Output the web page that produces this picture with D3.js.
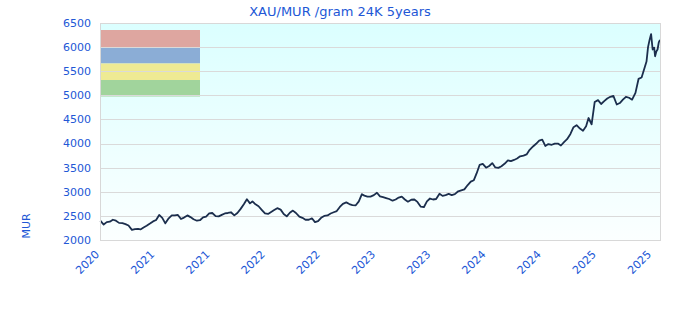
<!DOCTYPE html>
<html>
<head>
<meta charset="utf-8">
<script src="https://cdn.jsdelivr.net/npm/d3@7"></script>
<style>
  body { margin: 0; background: #fff; }
  svg { display: block; font-family: "DejaVu Sans", sans-serif; }
</style>
</head>
<body>
<div id="chart"></div>
<script>
const dates = [
  "2020-10-21",
  "2020-11-01","2020-11-11","2020-11-21","2020-12-01","2020-12-11","2020-12-21",
  "2021-01-01","2021-01-11","2021-01-21","2021-02-01","2021-02-11","2021-02-21",
  "2021-03-01","2021-03-11","2021-03-21","2021-04-01","2021-04-11","2021-04-21",
  "2021-05-01","2021-05-11","2021-05-21","2021-06-01","2021-06-11","2021-06-21",
  "2021-07-01","2021-07-11","2021-07-21","2021-08-01","2021-08-11","2021-08-21",
  "2021-09-01","2021-09-11","2021-09-21","2021-10-01","2021-10-11","2021-10-21",
  "2021-11-01","2021-11-11","2021-11-21","2021-12-01","2021-12-11","2021-12-21",
  "2022-01-01","2022-01-11","2022-01-21","2022-02-01","2022-02-11","2022-02-21",
  "2022-03-01","2022-03-11","2022-03-21","2022-04-01","2022-04-11","2022-04-21",
  "2022-05-01","2022-05-11","2022-05-21","2022-06-01","2022-06-11","2022-06-21",
  "2022-07-01","2022-07-11","2022-07-21","2022-08-01","2022-08-11","2022-08-21",
  "2022-09-01","2022-09-11","2022-09-21","2022-10-01","2022-10-11","2022-10-21",
  "2022-11-01","2022-11-11","2022-11-21","2022-12-01","2022-12-11","2022-12-21",
  "2023-01-01","2023-01-11","2023-01-21","2023-02-01","2023-02-11","2023-02-21",
  "2023-03-01","2023-03-11","2023-03-21","2023-04-01","2023-04-11","2023-04-21",
  "2023-05-01","2023-05-11","2023-05-21","2023-06-01","2023-06-11","2023-06-21",
  "2023-07-01","2023-07-11","2023-07-21","2023-08-01","2023-08-11","2023-08-21",
  "2023-09-01","2023-09-11","2023-09-21","2023-10-01","2023-10-11","2023-10-21",
  "2023-11-01","2023-11-11","2023-11-21","2023-12-01","2023-12-11","2023-12-21",
  "2024-01-01","2024-01-11","2024-01-21","2024-02-01","2024-02-11","2024-02-21",
  "2024-03-01","2024-03-11","2024-03-21","2024-04-01","2024-04-11","2024-04-21",
  "2024-05-01","2024-05-11","2024-05-21","2024-06-01","2024-06-11","2024-06-21",
  "2024-07-01","2024-07-11","2024-07-21","2024-08-01","2024-08-11","2024-08-21",
  "2024-09-01","2024-09-11","2024-09-21","2024-10-01","2024-10-11","2024-10-21",
  "2024-11-01","2024-11-11","2024-11-21","2024-12-01","2024-12-11","2024-12-21",
  "2025-01-01","2025-01-11","2025-01-21","2025-02-01","2025-02-11","2025-02-21",
  "2025-03-01","2025-03-11","2025-03-21","2025-04-01","2025-04-11","2025-04-21",
  "2025-05-01","2025-05-11","2025-05-21","2025-06-01","2025-06-11","2025-06-21",
  "2025-07-01","2025-07-11","2025-07-21","2025-08-01","2025-08-11","2025-08-21",
  "2025-09-01","2025-09-06","2025-09-11","2025-09-16","2025-09-21","2025-09-26",
  "2025-10-01","2025-10-04","2025-10-08","2025-10-12","2025-10-16","2025-10-20"
];

// MUR per gram, 24K
const prices = [
  2400,
  2320, 2370, 2380, 2420, 2400, 2355,
  2350, 2330, 2300, 2210, 2225, 2230,
  2220, 2260, 2295, 2340, 2385, 2415,
  2520, 2460, 2345, 2450, 2510, 2510,
  2520, 2435, 2465, 2510, 2475, 2430,
  2400, 2410, 2470, 2485, 2550, 2560,
  2495, 2490, 2520, 2550, 2560, 2575,
  2510, 2560, 2640, 2740, 2845, 2760,
  2800, 2740, 2700, 2620, 2550, 2540,
  2580, 2620, 2660, 2630, 2540, 2490,
  2565, 2610, 2560, 2485, 2460, 2420,
  2420, 2450, 2370, 2390, 2460, 2500,
  2510, 2550, 2575, 2600, 2685, 2750,
  2780, 2745, 2725, 2720, 2800, 2950,
  2920, 2900, 2900, 2930, 2980, 2905,
  2890, 2870, 2850, 2815, 2840, 2880,
  2900, 2840, 2795, 2835, 2840, 2790,
  2690, 2680, 2800, 2860, 2840, 2850,
  2960, 2915, 2930, 2955, 2930, 2950,
  3010, 3030, 3050, 3140, 3210, 3240,
  3380, 3560, 3580, 3500, 3535, 3595,
  3505, 3495, 3530, 3585, 3650, 3635,
  3660, 3690, 3735, 3750, 3775, 3870,
  3940, 3995, 4060, 4080, 3950, 3990,
  3975, 4000, 4000, 3960, 4030, 4090,
  4200, 4340, 4380, 4310, 4265, 4360,
  4530, 4400, 4860, 4900, 4820, 4880,
  4935, 4970, 4990, 4810, 4840, 4910,
  4970, 4950, 4910, 5050, 5340, 5370,
  5600, 5700, 6000, 6150, 6270, 5950,
  5990, 5810, 5910, 5950, 6100, 6150
];

const yTicks = [2000, 2500, 3000, 3500, 4000, 4500, 5000, 5500, 6000, 6500];
const xTickDates = ["2020-10-20", "2021-04-18", "2021-10-15", "2022-04-13", "2022-10-10",
  "2023-04-08", "2023-10-05", "2024-04-02", "2024-09-29", "2025-03-28", "2025-09-24"];
const xDomain = ["2020-10-20", "2025-10-20"];
const legendColors = ["#dea6a0", "#8badd6", "#eeea94", "#a1d49c"];

(function() {
  const width = 680;
  const height = 320;
  const plot = { left: 100, right: 660, top: 23, bottom: 240 };
  const blue = "#2257d6";
  const parse = d3.timeParse("%Y-%m-%d");

  const data = dates.map((d, i) => ({ date: parse(d), value: prices[i] }));

  const x = d3.scaleTime()
    .domain(xDomain.map(parse))
    .range([plot.left, plot.right]);

  const y = d3.scaleLinear()
    .domain([2000, 6500])
    .range([plot.bottom, plot.top]);

  const svg = d3.select("#chart").append("svg")
    .attr("width", width)
    .attr("height", height);

  const grad = svg.append("defs").append("linearGradient")
    .attr("id", "bg")
    .attr("x1", 0).attr("y1", 0).attr("x2", 0).attr("y2", 1);
  grad.append("stop").attr("offset", "0%").attr("stop-color", "#dbffff");
  grad.append("stop").attr("offset", "100%").attr("stop-color", "#fbffff");

  svg.append("rect")
    .attr("x", plot.left)
    .attr("y", plot.top)
    .attr("width", plot.right - plot.left)
    .attr("height", plot.bottom - plot.top)
    .attr("fill", "url(#bg)");

  // empty legend block, top left
  const legendTop = 30, legendH = [17, 16.5, 16.5, 16.5];
  let ly = legendTop;
  legendColors.forEach((c, i) => {
    svg.append("rect")
      .attr("x", plot.left)
      .attr("y", ly)
      .attr("width", 100)
      .attr("height", legendH[i])
      .attr("fill", c);
    ly += legendH[i];
  });

  svg.append("g")
    .selectAll("line")
    .data(yTicks.slice(1, -1))
    .enter()
    .append("line")
    .attr("x1", plot.left)
    .attr("x2", plot.right)
    .attr("y1", d => Math.round(y(d)) + 0.5)
    .attr("y2", d => Math.round(y(d)) + 0.5)
    .attr("stroke", "#dadada")
    .attr("stroke-width", 1);

  const line = d3.line()
    .x(d => x(d.date))
    .y(d => y(d.value));

  svg.append("path")
    .datum(data)
    .attr("d", line)
    .attr("fill", "none")
    .attr("stroke", "#1b2e4d")
    .attr("stroke-width", 1.8)
    .attr("stroke-linejoin", "round");

  svg.append("rect")
    .attr("x", plot.left + 0.5)
    .attr("y", plot.top + 0.5)
    .attr("width", plot.right - plot.left)
    .attr("height", plot.bottom - plot.top)
    .attr("fill", "none")
    .attr("stroke", "#d8d8d8");

  svg.append("g")
    .selectAll("text")
    .data(yTicks)
    .enter()
    .append("text")
    .attr("x", 91)
    .attr("y", d => y(d))
    .attr("dy", "0.35em")
    .attr("text-anchor", "end")
    .attr("fill", blue)
    .attr("font-size", "11px")
    .text(d => d);

  const fmt = d3.timeFormat("%Y");
  svg.append("g")
    .selectAll("text")
    .data(xTickDates.map(parse))
    .enter()
    .append("text")
    .attr("transform", d => `translate(${x(d)},${255}) rotate(-45)`)
    .attr("text-anchor", "end")
    .attr("fill", blue)
    .attr("font-size", "11px")
    .text(d => fmt(d));

  svg.append("text")
    .attr("x", width / 2)
    .attr("y", 16)
    .attr("text-anchor", "middle")
    .attr("fill", blue)
    .attr("font-size", "13px")
    .text("XAU/MUR /gram 24K 5years");

  svg.append("text")
    .attr("transform", "translate(29.5,226) rotate(-90)")
    .attr("text-anchor", "middle")
    .attr("fill", blue)
    .attr("font-size", "11px")
    .text("MUR");
})();
</script>
</body>
</html>
